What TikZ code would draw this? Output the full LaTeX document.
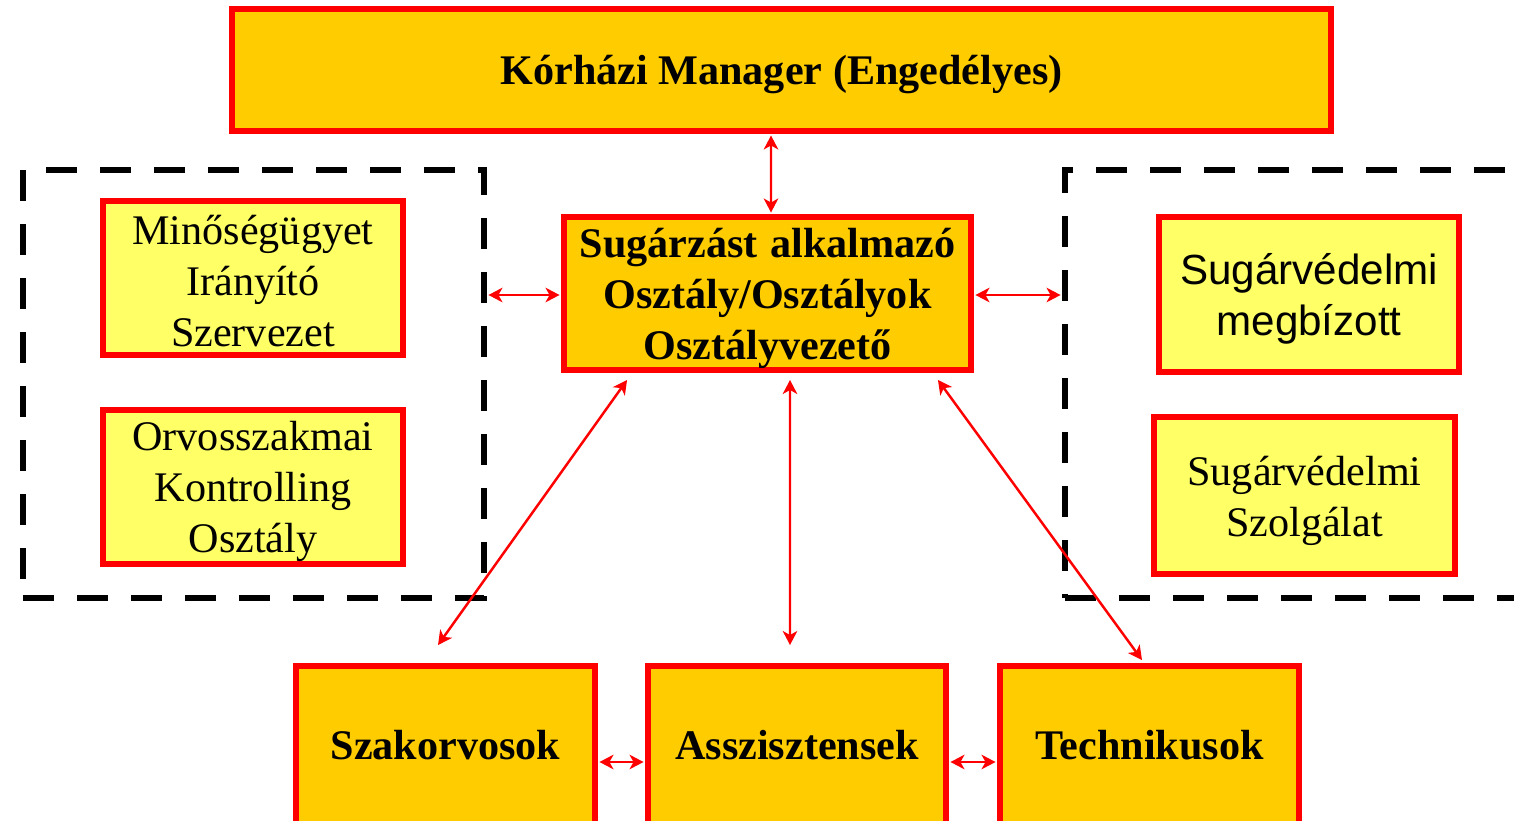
\documentclass[tikz,border=0pt]{standalone}
\usepackage{fontspec}
\setmainfont{Liberation Serif}
\newfontfamily\arialfont{Liberation Sans}
\usetikzlibrary{arrows.meta,calc}
\definecolor{boxorange}{HTML}{FFCC00}
\definecolor{boxyellow}{HTML}{FFFF66}
\definecolor{boxred}{HTML}{FF0000}
\tikzset{
  orangebox/.style={draw=boxred, line width=3.4pt, fill=boxorange, inner sep=0pt},
  yellowbox/.style={draw=boxred, line width=3.4pt, fill=boxyellow, inner sep=0pt},
  boldtxt/.style={align=center, inner sep=0pt, font=\fontsize{24}{29}\selectfont\bfseries},
  plaintxt/.style={align=center, inner sep=0pt, font=\fontsize{24}{29}\selectfont},
  groupbox/.style={draw=black, line width=3.4pt, dash pattern=on 0.62cm off 0.46cm, inner sep=0pt},
  arr/.style={draw=boxred, line width=1.4pt, {Stealth[length=0.28cm,width=0.29cm,inset=0.08cm]}-{Stealth[length=0.28cm,width=0.29cm,inset=0.08cm]}}
}
\begin{document}
\begin{tikzpicture}[x=0.02cm,y=-0.02cm]
\useasboundingbox (0,0) rectangle (1514,821);
\fill[white] (0,0) rectangle (1514,821);
% group boxes
\node[groupbox, minimum width=9.22cm, minimum height=8.56cm] (lgrp) at (253.5,384) {};
\node[groupbox, minimum width=9.3cm, minimum height=8.56cm] (rgrp) at (1297.5,384) {};
% boxes
\node[orangebox, minimum width=21.98cm, minimum height=2.44cm] (mgr) at (781.5,70) {};
\node[orangebox, minimum width=8.14cm, minimum height=3.06cm] (dept) at (767.5,293.5) {};
\node[yellowbox, minimum width=6.0cm, minimum height=3.08cm] (mino) at (253,278) {};
\node[yellowbox, minimum width=6.0cm, minimum height=3.08cm] (orvos) at (253,487) {};
\node[yellowbox, minimum width=6.0cm, minimum height=3.1cm] (megb) at (1309,294.5) {};
\node[yellowbox, minimum width=6.02cm, minimum height=3.14cm] (szolg) at (1304.5,495.5) {};
\node[orangebox, minimum width=5.98cm, minimum height=3.16cm] (szak) at (445.5,745) {};
\node[orangebox, minimum width=5.96cm, minimum height=3.16cm] (assz) at (797,745) {};
\node[orangebox, minimum width=5.98cm, minimum height=3.16cm] (tech) at (1149.5,745) {};
% texts
\node[boldtxt] (mgr-t) at ($(mgr.center)+(0,5)$) {K\'orh\'azi Manager (Enged\'elyes)};
\node[boldtxt] (dept-t) at ($(dept.center)+(0,5)$)
  {Sug\'arz\'ast\hspace{0.3em}alkalmaz\'o\\Oszt\'aly/Oszt\'alyok\\Oszt\'alyvezető};
\node[plaintxt] (mino-t) at ($(mino.center)+(0,3)$) {Minőségügyet\\Irányító\\Szervezet};
\node[plaintxt] (orvos-t) at ($(orvos.center)+(0,4)$) {Orvosszakmai\\Kontrolling\\Osztály};
\node[plaintxt, font=\fontsize{24}{29}\selectfont\arialfont] (megb-t) at ($(megb.center)+(0,4)$) {Sugárvédelmi\\megbízott};
\node[plaintxt] (szolg-t) at ($(szolg.center)+(0,5)$) {Sugárvédelmi\\Szolgálat};
\node[boldtxt] (szak-t) at (szak.center) {Szakorvosok};
\node[boldtxt] (assz-t) at (assz.center) {Asszisztensek};
\node[boldtxt] (tech-t) at (tech.center) {Technikusok};
% connectors
\draw[arr] ($(mgr.south)+(-10.5,1.5)$) -- ($(dept.north)+(3.5,-1.5)$);
\draw[arr] ($(lgrp.east |- dept.west)+(1.5,1.5)$) -- ($(dept.west)+(-1.5,1.5)$);
\draw[arr] ($(dept.east)+(1.5,1.5)$) -- ($(rgrp.west |- dept.east)+(-1.5,1.5)$);
\draw[arr] ($(dept.south west)+(66,7)$) -- ($(szak.north)+(-7.5,-18)$);
\draw[arr] ($(dept.south)+(22.5,7)$) -- ($(assz.north)+(-7,-18)$);
\draw[arr] ($(dept.south east)+(-36,7)$) -- ($(tech.north)+(-7.5,-3)$);
\draw[arr] ($(szak.east)+(1.5,17)$) -- ($(assz.west)+(-1.5,17)$);
\draw[arr] ($(assz.east)+(1.5,17)$) -- ($(tech.west)+(-1.5,17)$);
\end{tikzpicture}
\end{document}
